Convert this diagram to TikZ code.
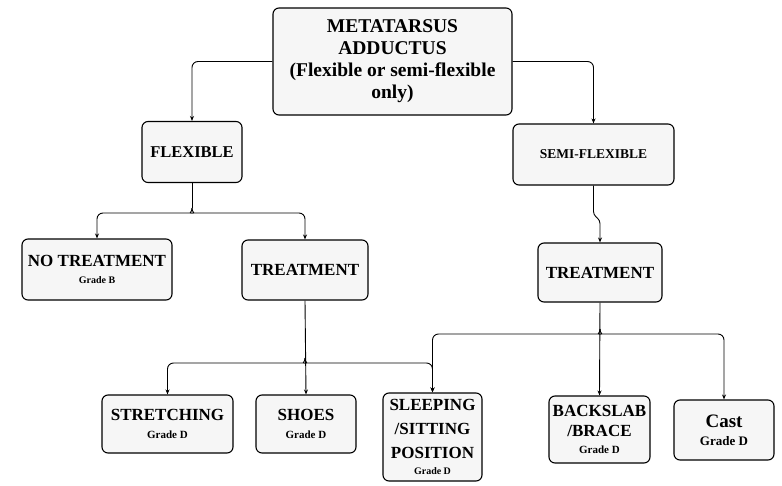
\documentclass[tikz,border=0pt]{standalone}
\usepackage{fontspec}
\setmainfont{Liberation Serif}
\usetikzlibrary{arrows.meta}

\newcommand{\gradetxt}[2]{{\fontsize{#1}{#1}\selectfont Grade #2}}

\begin{document}
\begin{tikzpicture}[x=1pt, y=-1pt,
  box/.style={rectangle, rounded corners=6pt, draw, line width=1.1pt,
    fill=gray!7, align=center, inner sep=0pt,
    font=\bfseries\fontsize{17}{20}\selectfont},
  arr/.style={-{Stealth[length=5pt,width=4pt]}, line width=0.9pt,
    rounded corners=6pt}
]
\useasboundingbox (0,0) rectangle (782,485);

% Top
\node[box, minimum width=239pt, minimum height=107pt,
  font=\bfseries\fontsize{19.5}{22}\selectfont] (root) at (392.5,61.5)
  {METATARSUS\\ADDUCTUS\\(Flexible or semi-flexible\\only)};

% Second level
\node[box, minimum width=100pt, minimum height=61pt,
  font=\bfseries\fontsize{16.5}{20}\selectfont] (flex) at (192,152) {FLEXIBLE};
\node[box, minimum width=161pt, minimum height=61pt,
  font=\bfseries\fontsize{13.5}{16}\selectfont] (semi) at (593.5,154.5) {SEMI-FLEXIBLE};

% Third level
\node[box, minimum width=150pt, minimum height=61pt] (notreat) at (97,269.5)
  {NO TREATMENT\\[-3pt]\gradetxt{10}{B}};
\node[box, minimum width=126pt, minimum height=60pt] (treatL) at (305,270) {TREATMENT};
\node[box, minimum width=124pt, minimum height=59pt] (treatR) at (600,272.5) {TREATMENT};

% Bottom row
\node[box, minimum width=131pt, minimum height=58pt] (stretch) at (167.5,424)
  {STRETCHING\\[-2pt]\gradetxt{11}{D}};
\node[box, minimum width=100pt, minimum height=58pt] (shoes) at (306,424)
  {SHOES\\[-2pt]\gradetxt{11}{D}};
\node[box, minimum width=99pt, minimum height=88pt,
  font=\bfseries\fontsize{17}{24}\selectfont] (sleep) at (432.5,437)
  {SLEEPING\\/SITTING\\POSITION\\[-8pt]\gradetxt{10}{D}};
\node[box, minimum width=101pt, minimum height=67pt] (back) at (599.5,429.5)
  {BACKSLAB\\/BRACE\\[-3pt]\gradetxt{11}{D}};
\node[box, minimum width=100pt, minimum height=60pt,
  font=\bfseries\fontsize{19}{21}\selectfont] (cast) at (724,430)
  {Cast\\[-3pt]\gradetxt{13}{D}};

% Junctions
\coordinate (jflex) at (192,208);
\coordinate (jtl) at (305,358);
\coordinate (jtr) at (600,329);

% Root to second level
\draw[arr] (root.west) -| (flex.north);
\draw[arr] (root.east) -| (semi.north);

% Flexible branch
\draw[line width=0.9pt] (flex.south) -- (jflex);
\draw[arr] (jflex) .. controls +(0,4) and +(4,0) .. ++(-7,5) -| (notreat.north);
\draw[arr] (jflex) .. controls +(0,4) and +(-4,0) .. ++(7,5) -| (treatL.north);
\draw[arr] (treatL.south) -- (shoes.north);
\draw[arr] (jtl) .. controls +(0,4) and +(4,0) .. ++(-7,5) -| (stretch.north);
\draw[arr] (jtl) .. controls +(0,4) and +(-4,0) .. ++(7,5) -| (sleep.north);

% Semi-flexible branch
\draw[arr, rounded corners=3pt] (semi.south) -- ++(0,29) -- ++(6.5,6) -- (treatR.north);
\draw[arr] (treatR.south) -- (back.north);
\draw[arr] (jtr) .. controls +(0,4) and +(4,0) .. ++(-7,5) -| (sleep.north);
\draw[arr] (jtr) .. controls +(0,4) and +(-4,0) .. ++(7,5) -| (cast.north);
\end{tikzpicture}
\end{document}
